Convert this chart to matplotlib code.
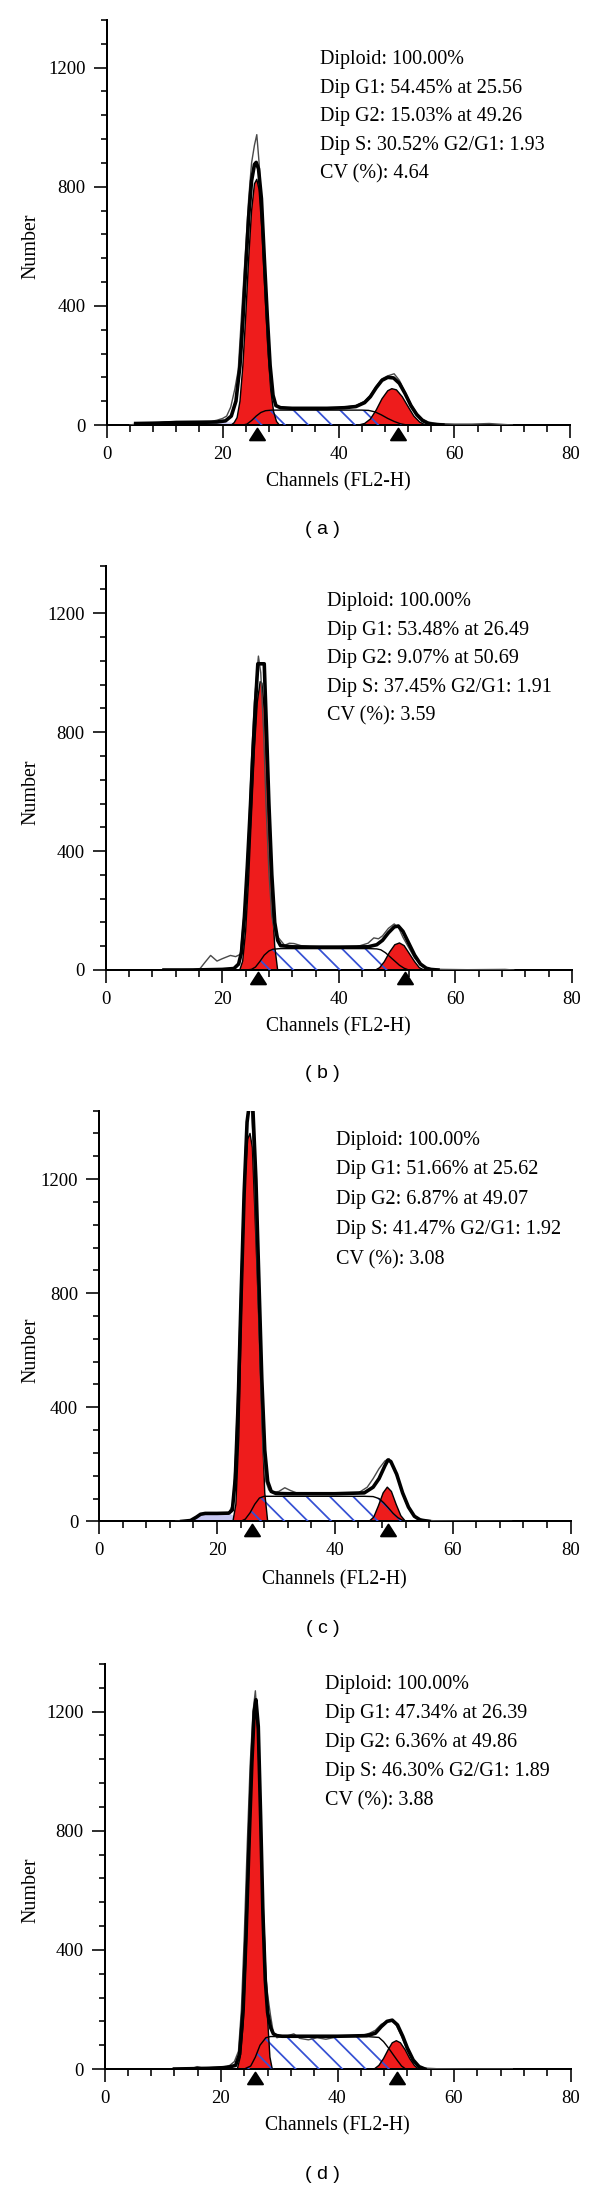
import matplotlib
matplotlib.use("Agg")
import matplotlib.pyplot as plt
from matplotlib.ticker import MultipleLocator
from matplotlib import transforms
from matplotlib.path import Path

DPI = 140
W, H = 600, 2190


def pt(px):
    return px * 72.0 / DPI


# ----------------------------------------------------------------- data
x_label = "Channels (FL2-H)"
y_label = "Number"
panel_tags = ["( a )", "( b )", "( c )", "( d )"]
y_max = [1360, 1360, 1440, 1360]

stats_a = ["Diploid: 100.00%", "Dip G1: 54.45% at 25.56", "Dip G2: 15.03% at 49.26",
           "Dip S: 30.52% G2/G1: 1.93", "CV (%): 4.64"]
stats_b = ["Diploid: 100.00%", "Dip G1: 53.48% at 26.49", "Dip G2: 9.07% at 50.69",
           "Dip S: 37.45% G2/G1: 1.91", "CV (%): 3.59"]
stats_c = ["Diploid: 100.00%", "Dip G1: 51.66% at 25.62", "Dip G2: 6.87% at 49.07",
           "Dip S: 41.47% G2/G1: 1.92", "CV (%): 3.08"]
stats_d = ["Diploid: 100.00%", "Dip G1: 47.34% at 26.39", "Dip G2: 6.36% at 49.86",
           "Dip S: 46.30% G2/G1: 1.89", "CV (%): 3.88"]

# peak markers (channel)
a_marks = [26.0, 50.3]
b_marks = [26.1, 51.3]
c_marks = [25.9, 49.1]
d_marks = [25.8, 50.3]

# ---- panel a
a_raw_x = [4, 6, 8, 10, 12, 14, 16, 18, 19, 20, 20.7, 21.4, 22.1, 22.7, 23.3, 24, 24.5, 25, 25.5,
           25.9, 26.3, 26.8, 27.3, 27.8, 28.3, 28.8, 29.5, 31, 33, 35, 37, 39, 41, 43, 44.5, 45.5,
           46.5, 47.5, 48.5, 49.6, 50.5, 51.5, 52.5, 53.5, 54.5, 55.5, 57, 60, 63, 66, 67.5, 70]
a_raw_y = [0, 6, 5, 10, 12, 12, 12, 12, 16, 22, 30, 60, 120, 185, 380, 600, 760, 880, 940,
           975, 880, 700, 480, 280, 140, 80, 62, 58, 56, 55, 57, 56, 60, 65, 80, 100,
           130, 155, 165, 172, 150, 110, 70, 40, 20, 10, 5, 3, 3, 5, 3, 0]
a_fit_x = [5, 8, 12, 16, 19, 20.5, 21.5, 22.3, 23, 23.5, 24, 24.5, 25, 25.5, 25.8, 26.2, 26.7,
           27.2, 27.7, 28.2, 28.7, 29.2, 30, 32, 35, 38, 41, 43, 44.5, 45.5, 46.5, 47.5, 48.5,
           49.5, 50.5, 51.5, 52.5, 53.5, 54.5, 55.5, 56.5, 58]
a_fit_y = [5, 6, 8, 9, 10, 14, 30, 80, 200, 350, 530, 700, 820, 875, 882, 860, 760,
           560, 370, 200, 100, 65, 58, 56, 56, 56, 58, 62, 75, 95, 125, 150, 160,
           158, 140, 105, 65, 35, 15, 5, 2, 0]
a_g1_x = [21.5, 22, 22.5, 23, 23.5, 24, 24.5, 25, 25.5, 25.9, 26.3, 26.8, 27.3, 27.8, 28.3,
          28.8, 29.3, 29.8]
a_g1_y = [0, 8, 25, 80, 200, 370, 560, 720, 810, 825, 790, 650, 450, 260, 120, 45, 12, 0]
a_g2_x = [43.5, 44.5, 45.5, 46.5, 47.5, 48.5, 49.2, 50, 51, 52, 53, 54, 55]
a_g2_y = [0, 5, 20, 50, 88, 115, 122, 118, 95, 62, 30, 10, 0]
a_s_x = [23.5, 24.2, 25, 25.8, 26.6, 27.4, 28.5, 30, 35, 40, 44, 45.2, 46.3, 47.4, 48.5, 49.6,
         50.7, 51.8]
a_s_y = [0, 3, 15, 30, 42, 48, 50, 50, 50, 50, 50, 49, 44, 34, 22, 12, 4, 0]
a_deb_x = [4, 6, 10, 14, 18, 20, 21.5, 22.5, 23.5]
a_deb_y = [0, 4, 8, 9, 10, 10, 8, 4, 0]

# ---- panel b
b_raw_x = [10, 13, 15, 16.2, 17, 18, 19.1, 20, 21.4, 22.3, 23.1, 23.8, 24.5, 25, 25.5, 26.2,
           26.6, 27.1, 27.5, 28, 28.5, 29, 29.7, 30.7, 31.5, 32.3, 33.5, 35, 37, 40, 43, 45,
           46, 46.8, 47.5, 48.5, 49.5, 50.3, 51, 52, 53, 54, 55, 56, 58, 62, 68.5, 70]
b_raw_y = [0, 1, 2, 5, 25, 49, 30, 38, 49, 45, 53, 200, 450, 700, 900, 1056, 1000, 800, 560,
           330, 180, 130, 107, 83, 90, 89, 82, 80, 78, 76, 78, 90, 108, 105, 115, 140, 155,
           140, 110, 75, 40, 18, 7, 3, 2, 1, 2, 0]
b_fit_x = [10, 15, 20, 22, 22.8, 23.3, 23.8, 24.3, 24.8, 25.3, 25.8, 26.1, 27.2, 27.6, 28,
           28.5, 29, 29.5, 30, 32, 35, 40, 45, 46.5, 47.5, 48.5, 49.5, 50.2, 51, 52, 53, 54,
           55, 55.8, 57]
b_fit_y = [0, 0, 2, 5, 20, 60, 180, 350, 540, 750, 930, 1030, 1030, 800, 560,
           320, 160, 100, 82, 78, 77, 77, 78, 85, 100, 125, 145, 148, 130, 90, 50, 20,
           6, 2, 0]
b_g1_x = [23, 23.5, 24, 24.5, 25, 25.5, 26, 26.5, 26.8, 27.2, 27.6, 28, 28.5, 29, 29.5]
b_g1_y = [0, 30, 130, 300, 520, 740, 900, 970, 965, 880, 700, 490, 250, 80, 0]
b_g2_x = [46.3, 47, 47.8, 48.7, 49.6, 50.4, 51.2, 52.1, 53, 53.8, 54.6]
b_g2_y = [0, 8, 28, 60, 85, 91, 82, 55, 28, 8, 0]
b_s_x = [24, 25, 25.7, 26.5, 27.2, 28, 28.7, 30, 35, 40, 45, 46.5, 47.2, 48, 48.8, 49.6, 50.4,
         51.2, 52]
b_s_y = [0, 2, 10, 30, 50, 64, 70, 72, 72, 72, 72, 71, 68, 58, 44, 30, 16, 6, 0]
b_deb_x = []
b_deb_y = []

# ---- panel c
c_raw_x = [13, 15, 16, 16.5, 17.2, 18, 20, 22, 22.7, 23.2, 23.8, 24.3, 24.8, 25.3, 25.8, 26.3,
           26.8, 27.3, 27.8, 28.3, 28.8, 29.5, 30.5, 31.5, 32.5, 33.5, 35, 38, 41, 44, 45.5,
           46.5, 47.5, 48.5, 49.2, 50, 51, 52, 53, 54, 55, 57, 62, 70]
c_raw_y = [0, 2, 5, 15, 25, 28, 28, 30, 60, 250, 650, 1000, 1300, 1460, 1470, 1250,
           900, 550, 250, 140, 110, 102, 105, 118, 108, 100, 98, 96, 95, 100, 120,
           150, 185, 212, 220, 190, 130, 70, 30, 12, 5, 2, 1, 0]
c_fit_x = [14, 15.5, 16.5, 17.2, 18, 20, 22, 22.6, 23.1, 23.6, 24.1, 24.6, 25.1, 25.6, 26.1,
           26.6, 27.1, 27.6, 28.1, 28.6, 29.2, 30, 32, 35, 40, 45, 46.5, 47.5, 48.5, 49,
           49.5, 50.5, 51.5, 52.5, 53.5, 54.5, 56]
c_fit_y = [0, 3, 15, 25, 28, 28, 29, 40, 150, 420, 800, 1150, 1400, 1480, 1440,
           1200, 850, 500, 250, 140, 105, 98, 97, 97, 97, 100, 120, 150, 195, 215,
           210, 165, 100, 50, 18, 5, 0]
c_g1_x = [22.7, 23.2, 23.7, 24.2, 24.7, 25.2, 25.6, 26, 26.4, 26.8, 27.2, 27.6, 28.1, 28.6]
c_g1_y = [0, 60, 300, 800, 1180, 1340, 1360, 1310, 1100, 880, 650, 380, 100, 0]
c_g2_x = [45.8, 46.6, 47.4, 48.2, 48.9, 49.6, 50.4, 51.2, 52]
c_g2_y = [0, 15, 55, 100, 120, 105, 60, 20, 0]
c_s_x = [24, 24.8, 25.6, 26.4, 27.2, 28, 30, 35, 40, 45, 46.5, 47.5, 48.3, 49.1, 49.9, 50.7,
         51.5, 52.3]
c_s_y = [0, 8, 30, 60, 82, 88, 88, 88, 88, 88, 87, 80, 65, 47, 28, 13, 4, 0]
c_deb_x = [15.5, 16.2, 17, 17.8, 20, 22, 22.8, 23.5]
c_deb_y = [0, 8, 22, 27, 27, 28, 20, 0]

# ---- panel d
d_raw_x = [12, 14, 15.2, 15.9, 16.6, 17.5, 19, 20.5, 21.5, 22.3, 23, 23.5, 24, 24.5, 25, 25.5,
           25.9, 26.3, 26.7, 27.1, 27.5, 28, 28.5, 29, 29.6, 30.5, 31.5, 32.5, 33.5, 35, 36.5,
           38, 40, 42, 44, 45.5, 46.5, 47.5, 48.5, 49.3, 50, 51, 52, 53, 54, 55, 57, 62, 70]
d_raw_y = [0, 1, 3, 8, 5, 5, 6, 8, 12, 25, 60, 200, 450, 750, 1020, 1200, 1270, 1150, 850,
           550, 350, 250, 180, 120, 105, 110, 112, 118, 103, 98, 105, 100, 108, 110, 112,
           120, 130, 150, 160, 162, 150, 110, 60, 25, 8, 3, 1, 0, 0]
d_fit_x = [12, 18, 21, 22.5, 23.2, 23.8, 24.3, 24.8, 25.3, 25.7, 26.0, 26.4, 26.8, 27.2, 27.6,
           28, 28.5, 29, 29.6, 30.5, 35, 40, 45, 46.5, 47.5, 48.5, 49.4, 50.3, 51.2, 52, 53,
           54, 55]
d_fit_y = [0, 2, 5, 12, 50, 200, 450, 750, 1030, 1200, 1240, 1150, 850, 520, 300,
           190, 140, 118, 112, 110, 110, 110, 112, 120, 142, 160, 164, 148, 110, 70, 30,
           8, 0]
d_g1_x = [22.8, 23.3, 23.8, 24.3, 24.8, 25.3, 25.7, 26, 26.3, 26.7, 27.1, 27.5, 27.9, 28.4, 28.8]
d_g1_y = [0, 40, 150, 380, 700, 1000, 1170, 1200, 1140, 900, 620, 420, 200, 40, 0]
d_g2_x = [46.3, 47.1, 47.9, 48.7, 49.4, 50.1, 50.8, 51.6, 52.4, 53.2, 53.9]
d_g2_y = [0, 12, 35, 65, 88, 95, 88, 65, 35, 12, 0]
d_s_x = [24, 25.1, 25.9, 26.7, 27.7, 28.5, 30, 35, 40, 45, 47.1, 47.9, 48.7, 49.5, 50.3, 51,
         51.7]
d_s_y = [0, 10, 40, 80, 105, 109, 109, 109, 109, 109, 106, 92, 72, 50, 28, 10, 0]
d_deb_x = []
d_deb_y = []

# ----------------------------------------------------------------- layout (pixels)
layout = [
    dict(l=106.7, r=570.3, y0=425.0, yt=20.0, tx=320.0, ty=59.3, gap=28.7,
         yl=(30.6, 246.4), xl=(338.0, 482.1), tag=(322.6, 529.6)),
    dict(l=105.7, r=572.0, y0=970.0, yt=565.7, tx=327.2, ty=601.4, gap=28.7,
         yl=(30.6, 791.8), xl=(338.0, 1026.4), tag=(322.6, 1073.0)),
    dict(l=99.2, r=570.5, y0=1521.4, yt=1110.6, tx=335.6, ty=1140.0, gap=29.9,
         yl=(30.6, 1350.7), xl=(334.0, 1580.0), tag=(322.6, 1628.6)),
    dict(l=104.5, r=570.5, y0=2069.0, yt=1664.0, tx=325.3, ty=1684.0, gap=29.1,
         yl=(30.6, 1890.7), xl=(337.0, 2126.0), tag=(322.6, 2174.6)),
]

panels = [
    dict(raw=(a_raw_x, a_raw_y), fit=(a_fit_x, a_fit_y), g1=(a_g1_x, a_g1_y), g2=(a_g2_x, a_g2_y),
         s=(a_s_x, a_s_y), deb=(a_deb_x, a_deb_y), marks=a_marks, stats=stats_a),
    dict(raw=(b_raw_x, b_raw_y), fit=(b_fit_x, b_fit_y), g1=(b_g1_x, b_g1_y), g2=(b_g2_x, b_g2_y),
         s=(b_s_x, b_s_y), deb=(b_deb_x, b_deb_y), marks=b_marks, stats=stats_b),
    dict(raw=(c_raw_x, c_raw_y), fit=(c_fit_x, c_fit_y), g1=(c_g1_x, c_g1_y), g2=(c_g2_x, c_g2_y),
         s=(c_s_x, c_s_y), deb=(c_deb_x, c_deb_y), marks=c_marks, stats=stats_c),
    dict(raw=(d_raw_x, d_raw_y), fit=(d_fit_x, d_fit_y), g1=(d_g1_x, d_g1_y), g2=(d_g2_x, d_g2_y),
         s=(d_s_x, d_s_y), deb=(d_deb_x, d_deb_y), marks=d_marks, stats=stats_d),
]

# ----------------------------------------------------------------- style
RED = "#ee1c1c"
HATCH = "#3550d4"
DEBRIS = "#c8c8f2"
RAW = "#4a4a4a"
plt.rcParams["font.family"] = ["Liberation Serif", "DejaVu Serif"]
plt.rcParams["hatch.color"] = HATCH
plt.rcParams["hatch.linewidth"] = 0.9

fig = plt.figure(figsize=(W / DPI, H / DPI), dpi=DPI)
tri = Path([(-1, -0.78), (1, -0.78), (0, 0.78), (-1, -0.78)],
           [Path.MOVETO, Path.LINETO, Path.LINETO, Path.CLOSEPOLY])

for p, L, top, tag in zip(panels, layout, y_max, panel_tags):
    ax = fig.add_axes([L["l"] / W, 1 - L["y0"] / H, (L["r"] - L["l"]) / W, (L["y0"] - L["yt"]) / H])
    ax.set_xlim(0, 80)
    ax.set_ylim(0, top)

    if p["deb"][0]:
        ax.fill_between(p["deb"][0], p["deb"][1], 0, facecolor=DEBRIS, edgecolor="none", zorder=1)
    for key in ("g1", "g2"):
        xs, ys = p[key]
        ax.fill_between(xs, ys, 0, facecolor=RED, edgecolor="none", zorder=2)
    sx, sy = p["s"]
    ax.fill_between(sx, sy, 0, facecolor="none", edgecolor=HATCH, hatch="\\\\",
                    linewidth=0, zorder=3)
    for key in ("g1", "g2", "s"):
        xs, ys = p[key]
        ax.plot(xs, ys, color="black", lw=pt(1.4), zorder=4)
    ax.plot(*p["raw"], color=RAW, lw=pt(1.4), zorder=5)
    ax.plot(*p["fit"], color="black", lw=pt(3.6), zorder=6, solid_joinstyle="round")

    trans = transforms.offset_copy(ax.get_xaxis_transform(), fig=fig, x=0, y=-8.5, units="dots")
    ax.plot(p["marks"], [0] * len(p["marks"]), linestyle="none", marker=tri,
            markersize=pt(15), color="black", transform=trans, clip_on=False, zorder=10)

    for side in ("top", "right"):
        ax.spines[side].set_visible(False)
    for side in ("left", "bottom"):
        ax.spines[side].set_linewidth(pt(2.0))
    ax.xaxis.set_major_locator(MultipleLocator(20))
    ax.xaxis.set_minor_locator(MultipleLocator(4))
    ax.yaxis.set_major_locator(MultipleLocator(400))
    ax.yaxis.set_minor_locator(MultipleLocator(80))
    ax.tick_params(which="major", direction="out", length=pt(13), width=pt(1.6),
                   labelsize=pt(18.8), pad=pt(8))
    ax.tick_params(which="minor", direction="out", length=pt(6.5), width=pt(1.6))
    ax.tick_params(axis="y", which="major", pad=pt(8))

    ax.set_xlabel(x_label, fontsize=pt(19.6))
    ax.xaxis.set_label_coords(L["xl"][0] / W, 1 - L["xl"][1] / H, transform=fig.transFigure)
    ax.xaxis.label.set_va("center")
    ax.set_ylabel(y_label, fontsize=pt(20))
    ax.yaxis.set_label_coords(L["yl"][0] / W, 1 - L["yl"][1] / H, transform=fig.transFigure)
    ax.yaxis.label.set_va("center")

    for i, line in enumerate(p["stats"]):
        fig.text(L["tx"] / W, 1 - (L["ty"] + i * L["gap"]) / H, line, fontsize=pt(20.2),
                 ha="left", va="center")
    fig.text(L["tag"][0] / W, 1 - L["tag"][1] / H, tag, fontsize=pt(19.5),
             family=["Liberation Sans", "DejaVu Sans"], ha="center", va="center")

fig.savefig("out.png", dpi=DPI, facecolor="white")
